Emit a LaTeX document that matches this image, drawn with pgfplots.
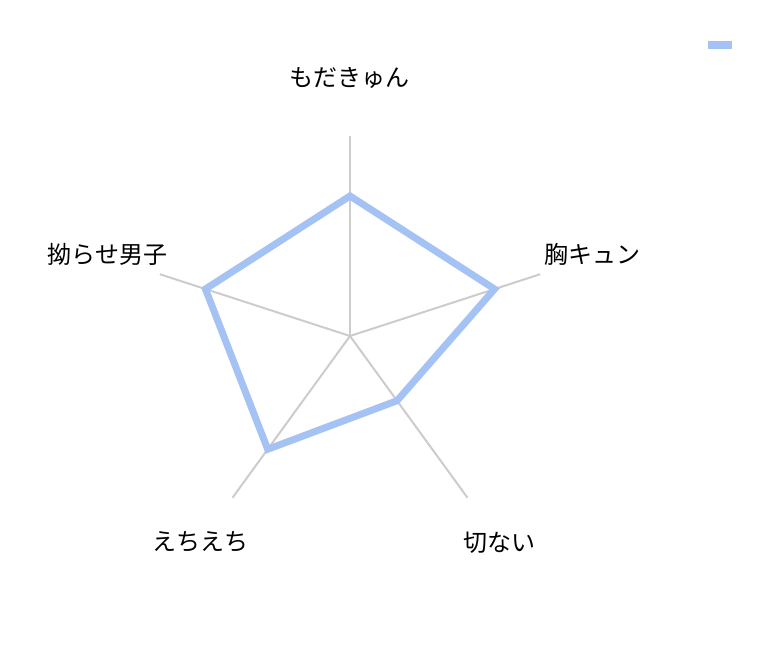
\documentclass[border=0pt]{standalone}
\usepackage{pgfplots}
\pgfplotsset{compat=1.18}
\usepgfplotslibrary{polar}
\usepackage{fontspec}
\setmainfont{Noto Sans CJK JP}
\definecolor{series}{HTML}{A4C2F4}
\definecolor{spoke}{HTML}{CCCCCC}
\begin{document}
\begin{tikzpicture}
\begin{polaraxis}[
  hide axis,
  width=200pt, height=200pt, scale only axis,
  ymin=0, ymax=1, clip=false,
  font=\fontsize{12pt}{14pt}\selectfont,
  every node/.append style={yshift=-1pt},
]
% spokes
\addplot[spoke, line width=1pt] coordinates {(90,0) (90,1)};
\addplot[spoke, line width=1pt] coordinates {(18,0) (18,1)};
\addplot[spoke, line width=1pt] coordinates {(306,0) (306,1)};
\addplot[spoke, line width=1pt] coordinates {(234,0) (234,1)};
\addplot[spoke, line width=1pt] coordinates {(162,0) (162,1)};
% series
\addplot[series, line width=3.5pt, line join=miter] coordinates {
  (90,0.70) (18,0.76) (306,0.40) (234,0.70) (162,0.76)
} --cycle;
% labels
\node at (axis cs:90,1.29) {もだきゅん};
\node at (axis cs:18.6,1.28) {胸キュン};
\node at (axis cs:306,1.275) {切ない};
\node at (axis cs:234,1.275) {えちえち};
\node at (axis cs:161.4,1.28) {拗らせ男子};
\coordinate (c) at (axis cs:0,0);
\end{polaraxis}
\fill[series] ([shift={(179pt,143.5pt)}]c) rectangle ([shift={(191pt,147.5pt)}]c);
\pgfresetboundingbox
\path ([shift={(-175pt,-167.5pt)}]c) rectangle ([shift={(216pt,168pt)}]c);
\end{tikzpicture}
\end{document}
